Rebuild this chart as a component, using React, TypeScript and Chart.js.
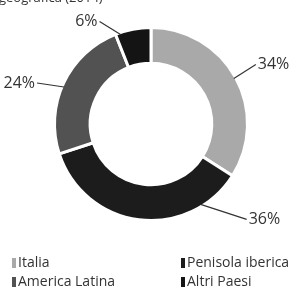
import React, { useEffect, useRef } from "react";
import { Chart, registerables } from "chart.js";

Chart.register(...registerables);

const title = "geografica (2014)";
const categories = ["Italia", "Penisola iberica", "America Latina", "Altri Paesi"];
const values = [34, 36, 24, 6];
const valueLabels = ["34%", "36%", "24%", "6%"];
const colors = ["#a9a9a9", "#1c1c1c", "#525252", "#141414"];

// label placement (styling): anchor fraction along each slice and text offset from anchor
const labelAnchor = [0.5, 0.2, 0.475, 0.13];
const labelOffset = [
  [22, -14],
  [46, 15],
  [-27, -4],
  [-21, -13],
];

const FONT = "'Open Sans', 'Liberation Sans', sans-serif";

const overlayPlugin = {
  id: "overlay",
  afterDraw(chart: any) {
    const ctx = chart.ctx as CanvasRenderingContext2D;
    const meta = chart.getDatasetMeta(0);
    ctx.save();
    // title (partially cut off at top)
    ctx.fillStyle = "#333";
    ctx.font = `13px ${FONT}`;
    ctx.textAlign = "left";
    ctx.textBaseline = "alphabetic";
    ctx.fillText(title, -1, 2);

    // value labels with leader lines
    meta.data.forEach((arc: any, i: number) => {
      const { x, y, startAngle, endAngle, outerRadius } = arc.getProps(
        ["x", "y", "startAngle", "endAngle", "outerRadius"],
        true
      );
      const a = startAngle + (endAngle - startAngle) * labelAnchor[i];
      const r = outerRadius - 2;
      const ax = x + Math.cos(a) * r;
      const ay = y + Math.sin(a) * r;
      const [dx, dy] = labelOffset[i];
      const ex = ax + dx;
      const ey = ay + dy;
      ctx.strokeStyle = "#333";
      ctx.lineWidth = 1.2;
      ctx.beginPath();
      ctx.moveTo(ax, ay);
      ctx.lineTo(ex, ey);
      ctx.stroke();
      ctx.fillStyle = "#333";
      ctx.font = `16px ${FONT}`;
      ctx.textBaseline = "middle";
      ctx.textAlign = dx >= 0 ? "left" : "right";
      ctx.fillText(valueLabels[i], ex + (dx >= 0 ? 2 : -2), ey);
    });

    // legend, two columns
    const colX = [12, 181];
    const rowY = [263, 282];
    categories.forEach((c, i) => {
      const cx = colX[i % 2];
      const cy = rowY[Math.floor(i / 2)];
      ctx.fillStyle = colors[i];
      ctx.fillRect(cx, cy - 5, 4, 10);
      ctx.fillStyle = "#333";
      ctx.font = `14px ${FONT}`;
      ctx.textAlign = "left";
      ctx.textBaseline = "middle";
      ctx.fillText(c, cx + 6, cy);
    });
    ctx.restore();
  },
};

export default function App() {
  const ref = useRef<HTMLCanvasElement | null>(null);
  useEffect(() => {
    if (!ref.current) return;
    const chart = new Chart(ref.current, {
      type: "doughnut",
      data: {
        labels: categories,
        datasets: [
          {
            data: values,
            backgroundColor: colors,
            borderColor: "#ffffff",
            borderWidth: 3,
          },
        ],
      },
      options: {
        animation: false,
        responsive: false,
        cutout: "63%",
        layout: { padding: { left: 53, right: 46, top: 26, bottom: 73 } },
        plugins: {
          legend: { display: false },
          tooltip: { enabled: false },
        },
      },
      plugins: [overlayPlugin],
    });
    return () => chart.destroy();
  }, []);
  return (
    <div style={{ position: "fixed", left: 0, top: 0, width: 295, height: 295, background: "#fff" }}>
      <canvas ref={ref} width={295} height={295} style={{ width: 295, height: 295 }} />
    </div>
  );
}
